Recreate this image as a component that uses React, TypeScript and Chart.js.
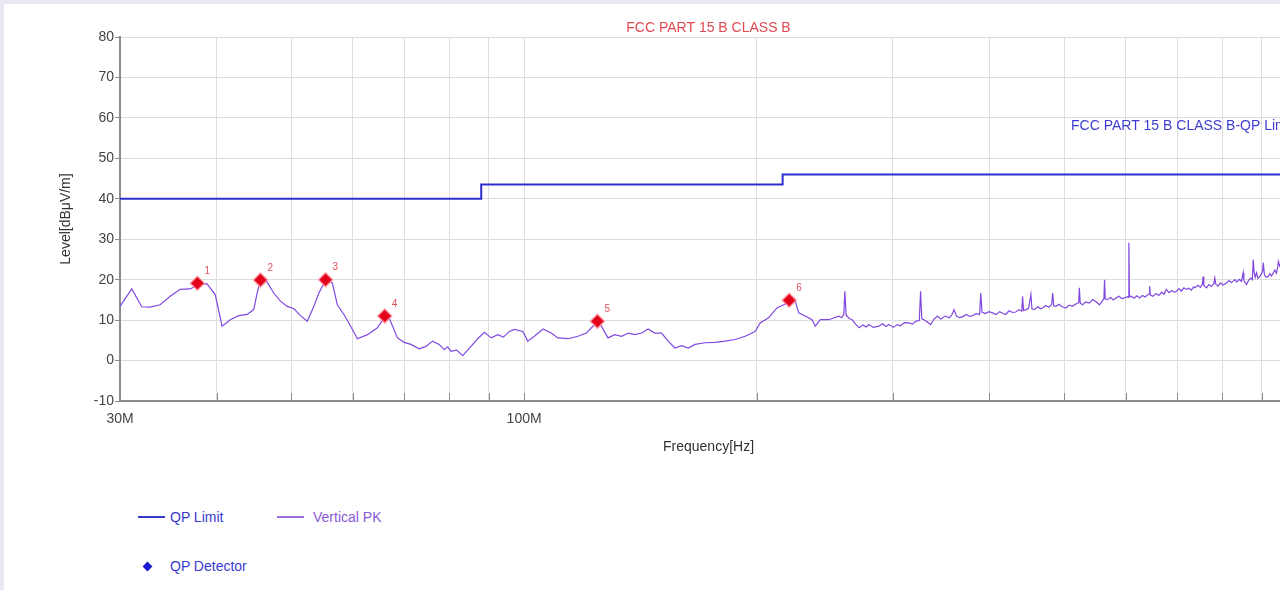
import React, { useEffect, useRef } from "react";
import { Chart, registerables } from "chart.js";

Chart.register(...registerables);

const chartTitle = "FCC PART 15 B CLASS B";
const limitLineLabel = "FCC PART 15 B CLASS B-QP Limit";
const xAxisTitle = "Frequency[Hz]";
const yAxisTitle = "Level[dBμV/m]";

const xTickValues = [30, 40, 50, 60, 70, 80, 90, 100, 200, 300, 400, 500, 600, 700, 800, 900, 1000];
const xTickLabels: Record<number, string> = { 30: "30M", 100: "100M" };
const yMin = -10;
const yMax = 80;
const yStep = 10;

const limitFreq = [30, 88, 88, 216, 216, 1000];
const limitLevel = [40, 40, 43.5, 43.5, 46, 46];

const markerFreq = [37.78, 45.59, 55.35, 66.02, 124.4, 220.3];
const markerLevel = [19.1, 19.9, 20.0, 11.0, 9.7, 14.9];
const markerLabels = ["1", "2", "3", "4", "5", "6"];

const limitLabelFreq = 510;
const limitLabelLevel = 57.9;

const traceFreq = [
  30.0, 31.07, 32.01, 32.81, 33.81, 34.84, 35.89, 36.98, 37.78, 38.86, 39.84, 40.66, 41.67, 42.72, 43.81,
  44.68, 45.14, 45.59, 46.5, 47.43, 48.39, 49.37, 50.36, 51.37, 52.41, 53.45, 54.26, 55.35, 56.47, 57.32,
  58.46, 59.64, 60.85, 62.7, 64.6, 66.02, 66.88, 68.57, 69.95, 71.36, 73.15, 74.62, 76.13, 77.65, 78.82,
  79.62, 80.41, 81.8, 83.28, 85.36, 87.08, 88.83, 90.63, 92.46, 94.0, 95.71, 97.16, 99.62, 101.1, 103.1,
  105.8, 108.4, 110.6, 114.0, 117.4, 120.4, 122.2, 124.4, 125.9, 128.4, 131.0, 133.7, 136.4, 139.1, 141.9,
  144.7, 147.6, 150.6, 153.6, 156.7, 159.9, 163.1, 166.4, 171.4, 176.6, 182.0, 187.5, 193.2, 199.0, 202.0,
  207.2, 212.4, 216.7, 220.3, 224.3, 226.6, 231.1, 235.8, 238.1, 241.7, 247.8,
  255.3, 257.5, 259.2, 260.0, 261.0, 263.5, 265.7, 268.0, 271.1, 274.5, 277.0, 279.3, 283.0, 287.8, 291.0,
  294.0, 296.4, 300.5, 303.8, 306.9, 310.5, 314.7, 318.0, 320.9, 324.6, 325.8, 327.0, 329.1, 332.0, 335.7,
  339.0, 342.5, 346.0, 350.5, 354.7, 357.5, 359.9, 362.5, 366.0, 369.0, 373.5, 377.0, 380.2, 384.5, 388.5,
  389.8, 391.2, 395.0, 399.5, 403.6, 408.0, 412.5, 416.0, 420.0, 424.0, 428.5, 432.7, 437.0, 440.5, 441.5,
  442.8, 445.9, 449.5, 452.6, 454.0, 457.2, 462.0, 465.5, 468.6, 473.0, 477.5, 481.5, 482.9, 484.5, 487.7,
  492.0, 496.5, 502.5, 507.0, 512.0, 517.5, 521.8, 522.9, 524.2, 528.1, 533.0, 538.5, 544.2, 549.0, 555.2,
  559.5, 562.6, 563.6, 564.8, 569.2, 574.0, 578.5, 583.5, 588.5, 593.5, 598.4, 603.5, 605.2, 606.0, 607.0,
  610.2, 615.5, 620.5, 625.7, 631.0, 636.0, 641.5, 643.8, 644.7, 646.0, 651.1, 657.0, 662.5, 668.5, 673.0,
  677.4, 683.0, 688.0, 693.5, 698.0, 703.5, 708.5, 714.0, 719.0, 724.5, 730.0, 735.0, 737.3, 744.5, 750.0,
  754.5, 755.9, 757.5, 763.4, 769.0, 774.5, 780.5, 782.8, 785.0, 790.6, 796.0, 802.5, 810.5, 816.5, 822.5,
  827.5, 831.1, 836.0, 842.0, 847.5, 851.8, 853.5, 860.3, 866.0, 871.5, 875.5, 877.7, 880.0, 883.0, 886.4,
  890.0, 895.5, 899.0, 902.5, 904.4, 907.5, 912.0, 918.0, 922.5, 927.0, 931.9, 936.0, 940.5, 944.0, 946.0,
  949.5, 953.0, 956.5, 960.1, 965.0, 970.0, 976.0, 982.0, 988.0, 994.0, 1000.0,
];

const traceLevel = [
  13.4, 17.7, 13.3, 13.2, 13.8, 15.9, 17.6, 17.7, 18.6, 19.0, 16.3, 8.5, 10.1, 11.1, 11.4,
  12.6, 16.7, 19.8, 19.4, 16.7, 14.7, 13.4, 12.8, 11.1, 9.7, 13.4, 16.7, 19.9, 19.2, 13.8,
  11.4, 8.5, 5.4, 6.4, 8.1, 10.8, 10.6, 5.6, 4.5, 4.0, 2.9, 3.5, 4.8, 4.0, 2.7,
  3.4, 2.3, 2.6, 1.2, 3.5, 5.4, 7.0, 5.6, 6.4, 5.8, 7.2, 7.7, 7.2, 4.8, 6.0,
  7.8, 6.8, 5.6, 5.4, 6.0, 6.8, 8.1, 9.4, 8.5, 5.6, 6.4, 6.0, 6.8, 6.4, 6.8,
  7.8, 6.8, 6.8, 4.8, 3.1, 3.7, 3.1, 4.0, 4.4, 4.5, 4.8, 5.2, 6.0, 7.2, 9.3,
  10.6, 13.0, 13.8, 14.6, 14.7, 11.8, 11.0, 10.1, 8.5, 10.1, 10.1,
  11.0, 10.6, 11.4, 17.1, 11.2, 10.4, 10.1, 9.2, 8.1, 8.8, 8.3, 8.9, 8.2, 8.5, 9.1,
  8.4, 8.9, 8.2, 8.9, 8.6, 9.4, 9.3, 9.0, 9.7, 9.9, 17.1, 10.3, 10.1, 9.6, 8.9,
  10.2, 11.0, 10.3, 11.0, 10.6, 11.2, 12.6, 11.0, 10.6, 10.8, 11.4, 10.9, 11.1, 11.6, 11.4,
  16.7, 12.0, 11.6, 12.1, 11.8, 11.4, 12.1, 11.7, 11.4, 12.3, 11.9, 12.0, 12.6, 12.2, 15.9,
  12.4, 12.6, 12.9, 16.3, 12.8, 12.6, 13.3, 12.8, 13.0, 13.6, 13.2, 13.9, 16.7, 13.5, 13.4,
  13.9, 13.3, 13.0, 13.7, 13.4, 14.0, 14.3, 18.0, 14.2, 13.8, 14.5, 14.2, 15.1, 14.6, 13.8,
  14.7, 15.3, 20.0, 15.2, 15.1, 15.6, 15.0, 15.5, 15.9, 15.3, 15.5, 15.8, 15.6, 29.1, 15.8,
  15.9, 15.4, 16.0, 15.5, 16.1, 15.7, 16.3, 16.5, 18.4, 16.2, 15.9, 16.6, 16.1, 16.9, 16.4,
  17.6, 16.8, 17.3, 16.9, 17.1, 17.8, 17.2, 18.0, 17.6, 17.9, 17.4, 18.2, 18.0, 18.6, 18.1,
  18.9, 20.8, 18.6, 18.0, 18.8, 18.3, 19.0, 20.4, 18.9, 18.4, 19.2, 18.7, 19.2, 19.8, 19.3,
  19.7, 20.0, 19.4, 20.1, 19.6, 21.7, 19.8, 18.8, 19.9, 20.4, 20.0, 25.0, 21.9, 20.6, 21.7,
  20.3, 20.8, 21.4, 22.0, 24.2, 21.2, 20.6, 20.8, 21.5, 20.9, 21.7, 22.4, 21.6, 23.0, 24.5,
  23.4, 24.0, 23.2, 24.2, 23.5, 24.1, 23.3, 23.9, 23.2, 23.8, 23.5,
];

const FONT = "'Liberation Sans', Arial, Helvetica, sans-serif";

export default function App() {
  const canvasRef = useRef<HTMLCanvasElement | null>(null);

  useEffect(() => {
    const canvas = canvasRef.current;
    if (!canvas) return;

    const overlayPlugin = {
      id: "overlayText",
      afterDatasetsDraw(chart: any) {
        const { ctx, chartArea, scales } = chart;
        const xs = scales.x;
        const ys = scales.y;
        ctx.save();
        // inward tick marks on x axis
        ctx.strokeStyle = "#8a8a8a";
        ctx.lineWidth = 1;
        xTickValues.forEach((v) => {
          const px = Math.round(xs.getPixelForValue(v)) + 0.5;
          ctx.beginPath();
          ctx.moveTo(px, chartArea.bottom);
          ctx.lineTo(px, chartArea.bottom - 8);
          ctx.stroke();
        });
        // marker labels
        ctx.fillStyle = "#e0505a";
        ctx.font = `10px ${FONT}`;
        ctx.textAlign = "left";
        ctx.textBaseline = "middle";
        markerFreq.forEach((f, i) => {
          const px = xs.getPixelForValue(f);
          const py = ys.getPixelForValue(markerLevel[i]);
          ctx.fillText(markerLabels[i], px + 7, py - 12);
        });
        // limit line label
        ctx.fillStyle = "#3c3cd2";
        ctx.font = `14px ${FONT}`;
        ctx.fillText(limitLineLabel, xs.getPixelForValue(limitLabelFreq), ys.getPixelForValue(limitLabelLevel));
        ctx.restore();
      },
    };

    const chart = new Chart(canvas, {
      type: "line",
      data: {
        datasets: [
          {
            label: "QP Detector",
            type: "scatter",
            data: markerFreq.map((f, i) => ({ x: f, y: markerLevel[i] })),
            pointStyle: "rectRot",
            pointRadius: 7,
            backgroundColor: "#e3001b",
            borderColor: "rgba(255,150,160,0.8)",
            borderWidth: 1.5,
            order: 0,
          },
          {
            label: "QP Limit",
            data: limitFreq.map((f, i) => ({ x: f, y: limitLevel[i] })),
            borderColor: "#2f2fd0",
            borderWidth: 2,
            pointRadius: 0,
            fill: false,
            tension: 0,
            order: 1,
          },
          {
            label: "Vertical PK",
            data: traceFreq.map((f, i) => ({ x: f, y: traceLevel[i] })),
            borderColor: "#8048e0",
            borderWidth: 1.2,
            pointRadius: 0,
            fill: false,
            tension: 0,
            order: 2,
          },
        ],
      } as any,
      options: {
        responsive: false,
        animation: false,
        events: [],
        layout: { padding: { left: 54, right: 7, top: 0, bottom: 0 } },
        plugins: {
          legend: { display: false },
          tooltip: { enabled: false },
          title: {
            display: true,
            text: chartTitle,
            color: "#e04a52",
            font: { family: FONT, size: 14, weight: "normal" },
            padding: { top: 19.6, bottom: 0.6 },
            fullSize: false,
          } as any,
        },
        scales: {
          x: {
            type: "logarithmic",
            min: 30,
            max: 1000,
            afterBuildTicks: (s: any) => {
              s.ticks = xTickValues.map((v) => ({ value: v }));
            },
            afterFit: (s: any) => {
              s.height = 59;
            },
            ticks: {
              autoSkip: false,
              maxRotation: 0,
              minRotation: 0,
              padding: 10,
              color: "#444",
              font: { family: FONT, size: 14 },
              callback: (v: any) => xTickLabels[Number(v)] ?? "",
            },
            grid: { color: "#dedede", drawTicks: false, lineWidth: 1 },
            border: { color: "#8c8c8c", width: 2 },
            title: {
              display: true,
              text: xAxisTitle,
              color: "#333",
              font: { family: FONT, size: 14 },
              padding: { top: 4, bottom: 4 },
            },
          },
          y: {
            type: "linear",
            min: yMin,
            max: yMax,
            afterFit: (s: any) => {
              s.width = 66;
            },
            ticks: {
              stepSize: yStep,
              padding: 1,
              color: "#444",
              font: { family: FONT, size: 14 },
            },
            grid: { color: "#dedede", tickColor: "#8c8c8c", tickLength: 5, lineWidth: 1 },
            border: { color: "#8c8c8c", width: 2 },
            title: {
              display: true,
              text: yAxisTitle,
              color: "#333",
              font: { family: FONT, size: 14 },
              padding: { top: 4, bottom: 4 },
            },
          },
        },
      } as any,
      plugins: [overlayPlugin],
    });

    return () => {
      chart.destroy();
    };
  }, []);

  const legendText: React.CSSProperties = {
    position: "absolute",
    fontFamily: FONT,
    fontSize: 14,
    lineHeight: "16px",
    whiteSpace: "nowrap",
  };

  return (
    <div
      style={{
        position: "fixed",
        left: 0,
        top: 0,
        width: 1280,
        height: 590,
        overflow: "hidden",
        background: "#e8e8f2",
      }}
    >
      <div style={{ position: "absolute", left: 4, top: 4, width: 1276, height: 586, background: "#ffffff" }} />
      <canvas
        ref={canvasRef}
        width={1307}
        height={460}
        style={{ position: "absolute", left: 0, top: 0, width: 1307, height: 460 }}
      />
      {/* legend */}
      <div style={{ position: "absolute", left: 138, top: 516, width: 27, height: 2, background: "#3a3ac8" }} />
      <div style={{ ...legendText, left: 170, top: 509, color: "#3a3ad0" }}>QP Limit</div>
      <div style={{ position: "absolute", left: 277, top: 516, width: 27, height: 2, background: "#9a70e0" }} />
      <div style={{ ...legendText, left: 313, top: 509, color: "#8a5ad8" }}>Vertical PK</div>
      <div
        style={{
          position: "absolute",
          left: 144,
          top: 563,
          width: 7,
          height: 7,
          background: "#1a1ad0",
          transform: "rotate(45deg)",
        }}
      />
      <div style={{ ...legendText, left: 170, top: 558, color: "#3a3ad0" }}>QP Detector</div>
    </div>
  );
}
